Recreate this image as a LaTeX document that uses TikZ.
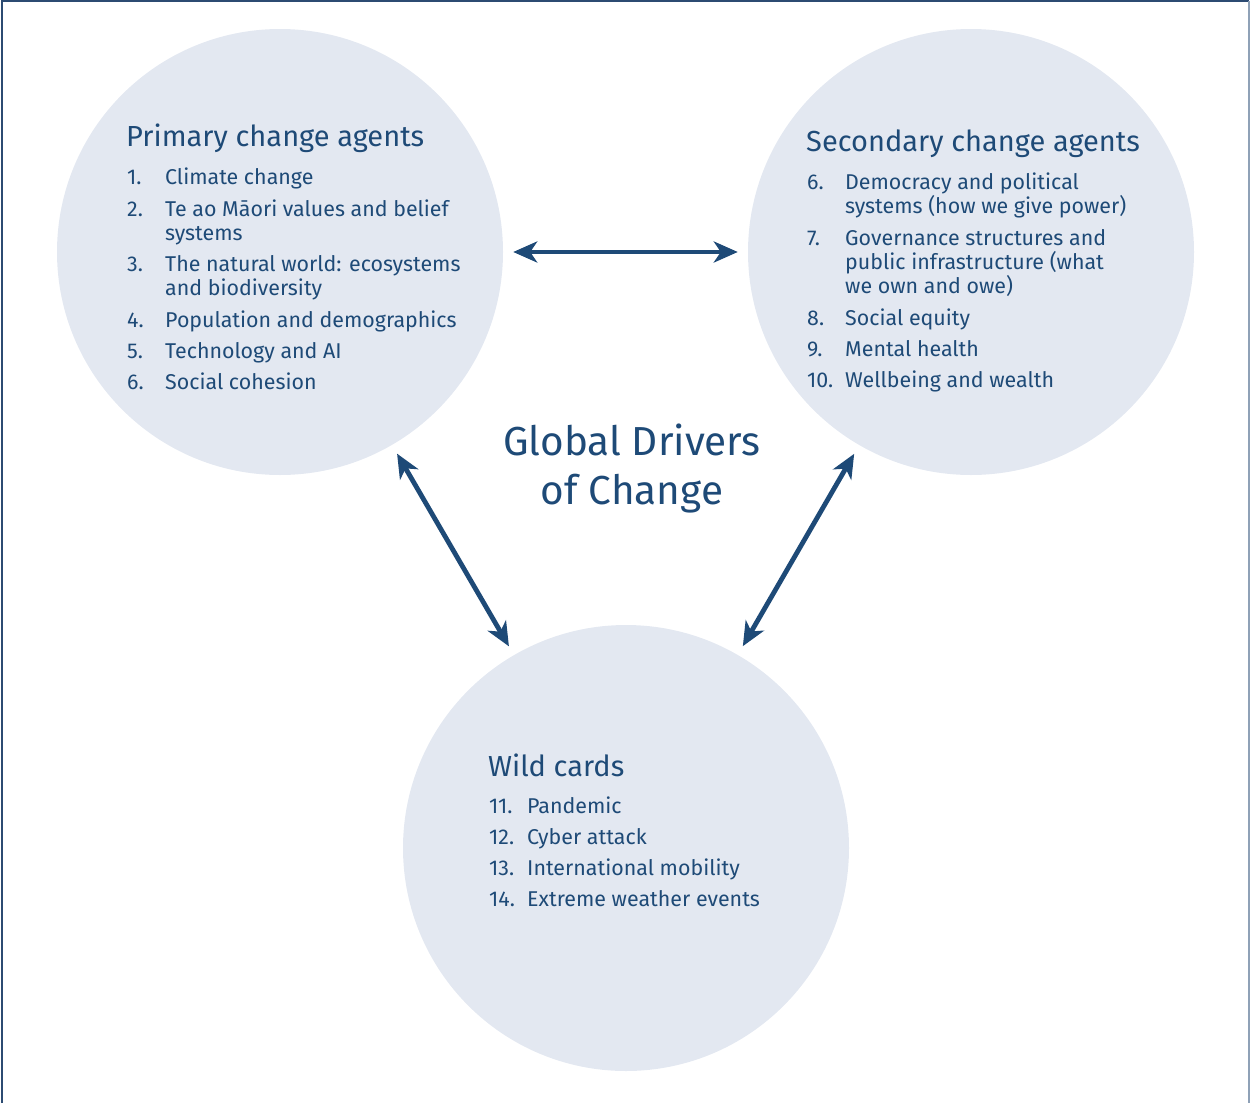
\documentclass[tikz,border=0pt]{standalone}
\usepackage{fontspec}
\setmainfont{Fira Sans}
\usetikzlibrary{arrows.meta}
\definecolor{navy}{HTML}{1E4A77}
\definecolor{circfill}{HTML}{E3E8F1}
\definecolor{framedark}{HTML}{2C4B72}
\definecolor{framelight}{HTML}{8FA1B7}
\tikzset{
  circ/.style={circle, fill=circfill, minimum size=446pt, inner sep=0pt},
  heading/.style={anchor=base west, inner sep=0pt, text=navy, font=\fontsize{29}{34}\selectfont},
  num/.style={anchor=base west, inner sep=0pt, text=navy, font=\fontsize{21.4}{24}\selectfont},
  item/.style={anchor=base west, inner sep=0pt, text=navy, font=\fontsize{21.4}{24}\selectfont},
  titletext/.style={anchor=base, inner sep=0pt, text=navy, font=\fontsize{40.5}{48}\selectfont},
  arr/.style={draw=navy, line width=4.8pt, {Stealth[length=24pt,width=21pt,inset=7pt]}-{Stealth[length=24pt,width=21pt,inset=7pt]}, shorten <=10pt, shorten >=10pt},
}
\begin{document}
\begin{tikzpicture}[x=1pt,y=-1pt]
\useasboundingbox (0,0) rectangle (1250,1103);
% frame
\draw[framedark, line width=2pt] (2,1103) -- (2,1) -- (1249,1);
\draw[framelight, line width=2pt] (1249,1) -- (1249,1103);
% circles
\node[circ] (prim) at (280,252) {};
\node[circ] (sec) at (971,252) {};
\node[circ] (wild) at (626,848) {};
% arrows
\draw[arr] (prim) -- (sec);
\draw[arr] (prim) -- (wild);
\draw[arr] (sec) -- (wild);
% title
\node[titletext] (t1) at (632,455) {Global Drivers};
\node[titletext] (t2) at (632,504) {of Change};
% primary
\node[heading] (ph) at (126,146) {Primary change agents};
\node[num] (pn1) at (127,184) {1.};
\node[item] (pi1) at (165,184) {Climate change};
\node[num] (pn2) at (127,216) {2.};
\node[item] (pi2) at (165,216) {Te ao Māori values and belief};
\node[item] (pi2b) at (165,240) {systems};
\node[num] (pn3) at (127,271) {3.};
\node[item] (pi3) at (165,271) {The natural world: ecosystems};
\node[item] (pi3b) at (165,295) {and biodiversity};
\node[num] (pn4) at (127,327) {4.};
\node[item] (pi4) at (165,327) {Population and demographics};
\node[num] (pn5) at (127,358) {5.};
\node[item] (pi5) at (165,358) {Technology and AI};
\node[num] (pn6) at (127,389) {6.};
\node[item] (pi6) at (165,389) {Social cohesion};
% secondary
\node[heading] (sh) at (806,151) {Secondary change agents};
\node[num] (sn6) at (807,189) {6.};
\node[item] (si6) at (845,189) {Democracy and political};
\node[item] (si6b) at (845,213) {systems (how we give power)};
\node[num] (sn7) at (807,245) {7.};
\node[item] (si7) at (845,245) {Governance structures and};
\node[item] (si7b) at (845,269) {public infrastructure (what};
\node[item] (si7c) at (845,293) {we own and owe)};
\node[num] (sn8) at (807,325) {8.};
\node[item] (si8) at (845,325) {Social equity};
\node[num] (sn9) at (807,356) {9.};
\node[item] (si9) at (845,356) {Mental health};
\node[num] (sn10) at (807,387) {10.};
\node[item] (si10) at (845,387) {Wellbeing and wealth};
% wild cards
\node[heading] (wh) at (488,776) {Wild cards};
\node[num] (wn11) at (489,813) {11.};
\node[item] (wi11) at (527,813) {Pandemic};
\node[num] (wn12) at (489,844) {12.};
\node[item] (wi12) at (527,844) {Cyber attack};
\node[num] (wn13) at (489,875) {13.};
\node[item] (wi13) at (527,875) {International mobility};
\node[num] (wn14) at (489,906) {14.};
\node[item] (wi14) at (527,906) {Extreme weather events};
\end{tikzpicture}
\end{document}
